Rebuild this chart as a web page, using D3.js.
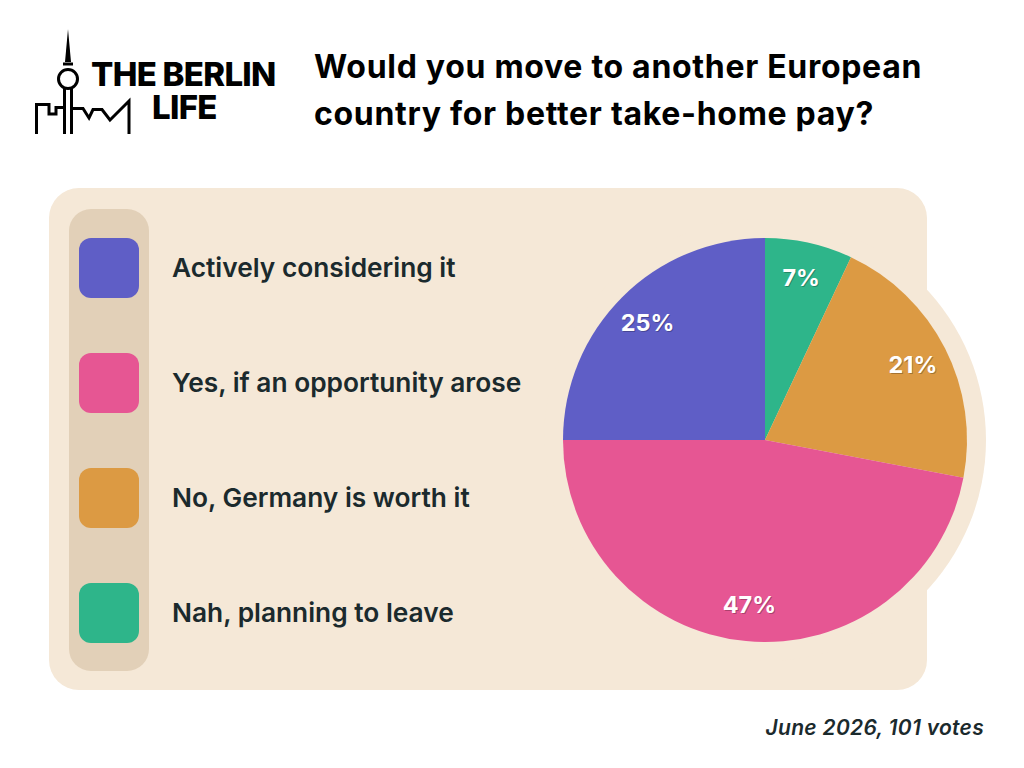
<!DOCTYPE html>
<html>
<head>
<meta charset="utf-8">
<script src="https://cdn.jsdelivr.net/npm/d3@7"></script>
<style>
  body { margin: 0; background: #fff; }
  svg { display: block; }
  text { font-family: Inter, "Noto Sans", sans-serif; }
</style>
</head>
<body>
<div id="chart"></div>
<script>
// poll answers, in legend order
var categories = ['Actively considering it', 'Yes, if an opportunity arose', 'No, Germany is worth it', 'Nah, planning to leave'];
var shares     = [25, 47, 21, 7];
var colors     = ['#5f5ec6', '#e65693', '#dc9a43', '#2eb58a'];
// the pie runs clockwise from 12 o'clock in this order
var pieOrder   = [3, 2, 1, 0];

var title    = ['Would you move to another European', 'country for better take-home pay?'];
var brand    = ['THE BERLIN', 'LIFE'];
var footnote = 'June 2026, 101 votes';

var W = 1024, H = 768;
var ink = '#1b2a2d';

var svg = d3.select('#chart').append('svg')
    .attr('width', W)
    .attr('height', H);

// logo -- tv tower + skyline
var logo = svg.append('g')
    .attr('fill', 'none')
    .attr('stroke', '#000')
    .attr('stroke-width', 3)
    .attr('stroke-linejoin', 'miter');

logo.append('path')
    .attr('fill', '#000')
    .attr('stroke', 'none')
    .attr('d', 'M68,29 L71,62 L65,62 Z');
logo.append('line').attr('x1', 63).attr('x2', 73).attr('y1', 64).attr('y2', 64);
logo.append('circle').attr('cx', 68).attr('cy', 79).attr('r', 9.5);
logo.append('line').attr('x1', 64.5).attr('x2', 64.5).attr('y1', 88).attr('y2', 134);
logo.append('line').attr('x1', 71.5).attr('x2', 71.5).attr('y1', 88).attr('y2', 134);
logo.append('path')
    .attr('d', 'M36.5,134 L36.5,104.5 L49,104.5 L49,114 L56,114 L56,107.5 L63,107.5');
logo.append('path')
    .attr('d', 'M73,108.5 L83,108.5 L89,118 L93,109.5 L102,109.5 L110,120 L129,101 L129,134');

svg.append('text')
    .attr('y', 86)
    .attr('font-size', 33)
    .attr('font-weight', 800)
    .attr('letter-spacing', -0.7)
    .attr('fill', '#000')
    .selectAll('tspan').data(brand).enter().append('tspan')
    .attr('x', (d, i) => i ? 152 : 91)
    .attr('dy', (d, i) => i ? 33 : 0)
    .text(d => d);

// title
svg.append('text')
    .attr('x', 314).attr('y', 78)
    .attr('font-size', 32)
    .attr('font-weight', 700)
    .attr('letter-spacing', 0.7)
    .attr('fill', '#000')
    .selectAll('tspan').data(title).enter().append('tspan')
    .attr('x', 314)
    .attr('dy', (d, i) => i ? 47 : 0)
    .text(d => d);

// panel
var cx = 765, cy = 440, R = 202;

svg.append('rect')
    .attr('x', 49).attr('y', 188)
    .attr('width', 878).attr('height', 502)
    .attr('rx', 30)
    .attr('fill', '#f5e8d7');
svg.append('circle')
    .attr('cx', cx).attr('cy', cy)
    .attr('r', 221)
    .attr('fill', '#f5e8d7');

// legend
var legend = svg.append('g');
legend.append('rect')
    .attr('x', 69).attr('y', 209)
    .attr('width', 80).attr('height', 462)
    .attr('rx', 22)
    .attr('fill', '#e2d0b8');

var yRow = d3.scalePoint().domain(categories).range([268, 613]);

var rows = legend.selectAll('g.row').data(categories).enter().append('g')
    .attr('class', 'row')
    .attr('transform', d => 'translate(0,' + yRow(d) + ')');

rows.append('rect')
    .attr('x', 79).attr('y', -30)
    .attr('width', 60).attr('height', 60)
    .attr('rx', 12)
    .attr('fill', (d, i) => colors[i]);

rows.append('text')
    .attr('x', 172).attr('y', 9)
    .attr('font-size', 26.3)
    .attr('font-weight', 600)
    .attr('fill', ink)
    .text(d => d);

// pie
var slices = pieOrder.map(i => ({ label: categories[i], value: shares[i], color: colors[i] }));

var pie = d3.pie().sort(null).value(d => d.value);
var arc = d3.arc().innerRadius(0).outerRadius(R);
var labelArc = d3.arc().innerRadius(166).outerRadius(166);

var gPie = svg.append('g').attr('transform', 'translate(' + cx + ',' + cy + ')');

gPie.selectAll('path').data(pie(slices)).enter().append('path')
    .attr('d', arc)
    .attr('fill', d => d.data.color);

var labels = gPie.selectAll('g.lbl').data(pie(slices)).enter().append('g')
    .attr('class', 'lbl')
    .attr('transform', d => 'translate(' + labelArc.centroid(d) + ')');

labels.append('text')
    .attr('x', 1).attr('y', 9)
    .attr('text-anchor', 'middle')
    .attr('font-size', 23.5)
    .attr('font-weight', 700)
    .attr('fill', 'rgba(0,0,0,0.25)')
    .text(d => d.data.value + '%');
labels.append('text')
    .attr('y', 8)
    .attr('text-anchor', 'middle')
    .attr('font-size', 23.5)
    .attr('font-weight', 700)
    .attr('fill', '#fff')
    .text(d => d.data.value + '%');

// footnote
svg.append('text')
    .attr('x', 984).attr('y', 735)
    .attr('text-anchor', 'end')
    .attr('font-size', 21)
    .attr('font-weight', 600)
    .attr('font-style', 'italic')
    .attr('letter-spacing', 0.3)
    .attr('fill', ink)
    .text(footnote);
</script>
</body>
</html>
